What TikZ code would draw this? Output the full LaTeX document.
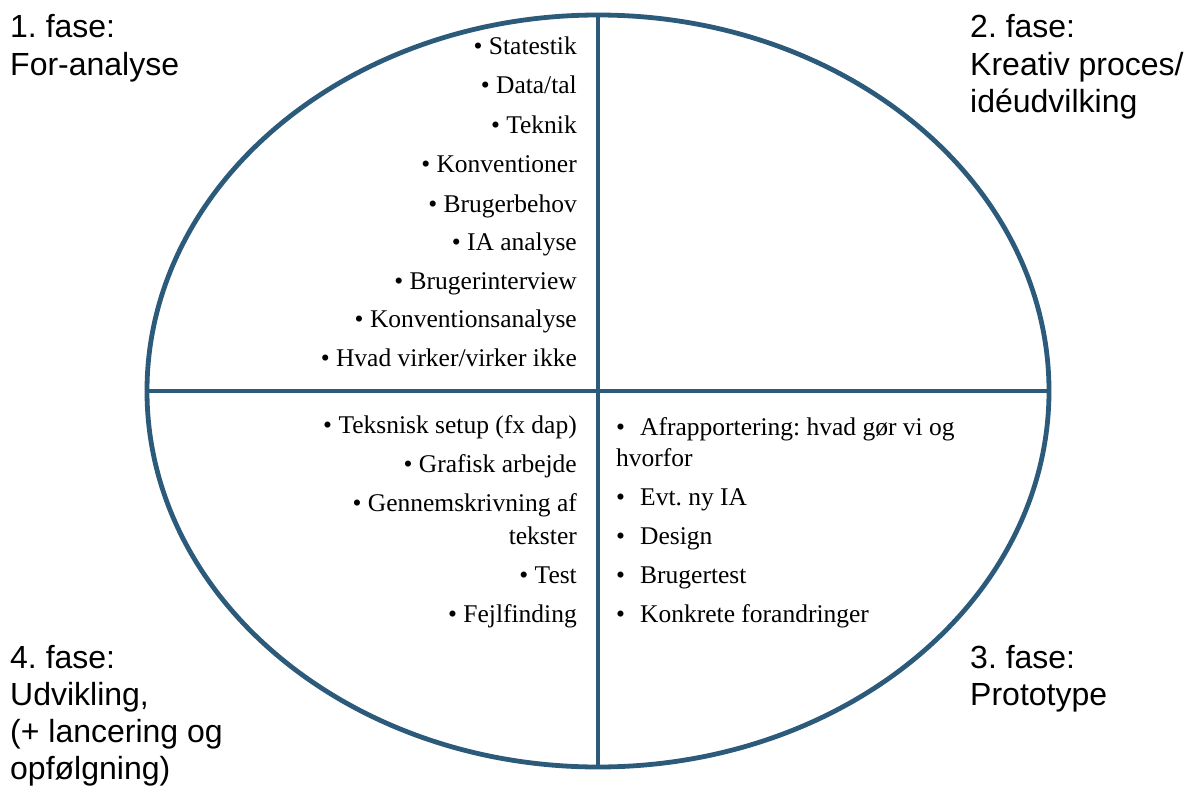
\documentclass[tikz,border=0pt]{standalone}
\usepackage{fontspec}
\setmainfont{Liberation Serif}
\newfontfamily\lsans{Liberation Sans}
\definecolor{ringblue}{RGB}{44,90,122}
\frenchspacing
\begin{document}
\begin{tikzpicture}[x=1pt,y=-1pt,
  ring/.style={draw=ringblue,line width=4.8pt},
  phase/.style={inner sep=0pt,anchor=base west,font=\lsans\fontsize{32}{37}\selectfont},
  itemR/.style={inner sep=0pt,anchor=base east,font=\fontsize{25.5}{30}\selectfont},
  itemL/.style={inner sep=0pt,anchor=base west,font=\fontsize{25.5}{30}\selectfont}]
\useasboundingbox[fill=white] (0,0) rectangle (1195,787);
% ellipse and cross
\coordinate (c) at (598,391);
\coordinate (top) at (598,15);
\coordinate (bot) at (598,767);
\coordinate (lft) at (147,391);
\coordinate (rgt) at (1049,391);
\draw[ring] (c) ellipse [x radius=451pt, y radius=376pt];
\draw[ring] (top) -- (bot);
\draw[ring] (lft) -- (rgt);
% phase labels
\node[phase] (p1a) at (10,37) {1. fase:};
\node[phase] (p1b) at (10,75) {For-analyse};
\node[phase] (p2a) at (970,37) {2. fase:};
\node[phase] (p2b) at (970,75) {Kreativ proces/};
\node[phase] (p2c) at (970,112) {idéudvilking};
\node[phase] (p3a) at (970,668) {3. fase:};
\node[phase] (p3b) at (970,705) {Prototype};
\node[phase] (p4a) at (10,668) {4. fase:};
\node[phase] (p4b) at (10,705) {Udvikling,};
\node[phase] (p4c) at (10,742) {(+ lancering og};
\node[phase] (p4d) at (10,779) {opfølgning)};
% phase 1 list
\node[itemR] (a1) at (577,54) {• Statestik};
\node[itemR] (a2) at (577,93) {• Data/tal};
\node[itemR] (a3) at (577,133) {• Teknik};
\node[itemR] (a4) at (577,172) {• Konventioner};
\node[itemR] (a5) at (577,212) {• Brugerbehov};
\node[itemR] (a6) at (577,250) {• IA analyse};
\node[itemR] (a7) at (577,289) {• Brugerinterview};
\node[itemR] (a8) at (577,327) {• Konventionsanalyse};
\node[itemR] (a9) at (577,366) {• Hvad virker/virker ikke};
% phase 4 list
\node[itemR] (d1) at (577,433) {• Teksnisk setup (fx dap)};
\node[itemR] (d2) at (577,472) {• Grafisk arbejde};
\node[itemR] (d3) at (577,511) {• Gennemskrivning af};
\node[itemR] (d3b) at (577,544) {tekster};
\node[itemR] (d4) at (577,583) {• Test};
\node[itemR] (d5) at (577,622) {• Fejlfinding};
% phase 3 list
\node[itemL] (b1) at (616,435) {•};
\node[itemL] (t1) at (640,435) {Afrapportering: hvad gør vi og};
\node[itemL] (t1b) at (616,466) {hvorfor};
\node[itemL] (b2) at (616,505) {•};
\node[itemL] (t2) at (640,505) {Evt. ny IA};
\node[itemL] (b3) at (616,544) {•};
\node[itemL] (t3) at (640,544) {Design};
\node[itemL] (b4) at (616,583) {•};
\node[itemL] (t4) at (640,583) {Brugertest};
\node[itemL] (b5) at (616,622) {•};
\node[itemL] (t5) at (640,622) {Konkrete forandringer};
\end{tikzpicture}
\end{document}
